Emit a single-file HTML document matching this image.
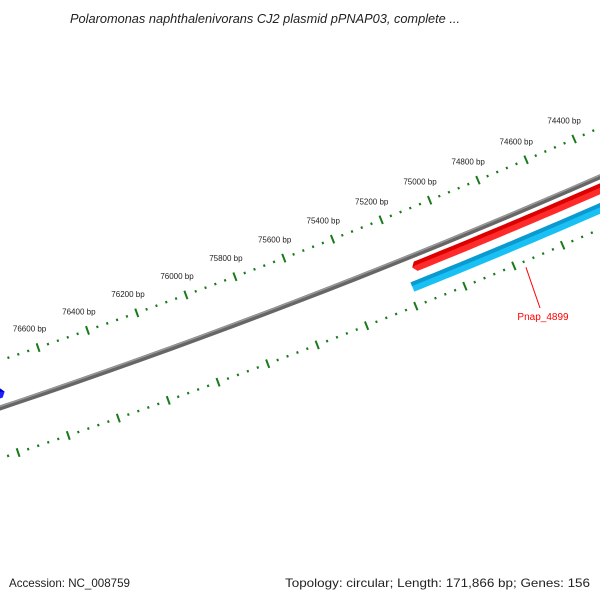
<!DOCTYPE html>
<html><head><meta charset="utf-8"><style>
html,body{margin:0;padding:0;background:#fff;}
svg{display:block;font-family:"Liberation Sans","DejaVu Sans",sans-serif;}
</style></head><body>
<svg id="map" width="600" height="600" viewBox="0 0 600 600" xmlns="http://www.w3.org/2000/svg">
<text x="265" y="23" text-anchor="middle" font-size="13" font-style="italic" fill="#222" textLength="390" lengthAdjust="spacingAndGlyphs">Polaromonas naphthalenivorans CJ2 plasmid pPNAP03, complete ...</text>
<g id="tracks"></g>
<text x="9" y="587" font-size="12" fill="#222" textLength="121" lengthAdjust="spacingAndGlyphs">Accession: NC_008759</text>
<text x="285" y="587" font-size="12" fill="#222" textLength="305" lengthAdjust="spacingAndGlyphs">Topology: circular; Length: 171,866 bp; Genes: 156</text>
</svg>
<script>
const genomeLength = [171866];
const tickLabels = [74400, 74600, 74800, 75000, 75200, 75400, 75600, 75800, 76000, 76200, 76400, 76600];
const geneNames = ["Pnap_4899_fwd", "Pnap_4899"];
const geneStarts = [75158, 75185];
const geneEnds = [73900, 73900];
const blueGeneStart = [76840];
const blueGeneEnd = [76775];

const NS = "http://www.w3.org/2000/svg";
const g = document.getElementById('tracks');
const R_LAB = 7153;
const R_BACK = R_LAB + 45, R_RED = R_LAB + 56, R_BLUE = R_LAB + 74, R_IN = R_LAB + 93;
const CX = 283 - 0.359 * R_LAB, CY = 256 - 0.933 * R_LAB;
const K = 2 * Math.PI / genomeLength[0];
const TH0 = Math.atan2(256 - CY, 283 - CX);
function ang(bp) { return TH0 + (bp - 75600) * K; }
function pt(bp, r) { const a = ang(bp); return [CX + r * Math.cos(a), CY + r * Math.sin(a)]; }
function mk(tag, attrs) { const e = document.createElementNS(NS, tag); for (const k in attrs) e.setAttribute(k, attrs[k]); g.appendChild(e); return e; }
function edge(b1, b2, r) { const pts = []; const n = 40; for (let i = 0; i <= n; i++) { const p = pt(b1 + (b2 - b1) * i / n, r); pts.push(p[0].toFixed(2) + ',' + p[1].toFixed(2)); } return pts; }

// backbone
{
  const p1 = mk('polyline', { points: edge(78500, 73500, R_BACK).join(' '), stroke: '#666', 'stroke-width': 5, fill: 'none' });
  
  
  const p2 = mk('polyline', { points: edge(78500, 73500, R_BACK - 1.5).join(' '), stroke: '#999', 'stroke-width': 1.5, fill: 'none' });
  
  
}

// ticks
function ring(r, labels, nameBase) {
  for (let bp = 73600; bp <= 77200; bp += 40) {
    const major = bp % 200 === 0;
    const len = major ? 4.5 : 1.2;
    const a = pt(bp, r - len), b = pt(bp, r + len);
    const t = mk('line', { x1: a[0], y1: a[1], x2: b[0], y2: b[1], stroke: '#1a7a1a', 'stroke-width': 2 });
    
    
  }
  if (labels) {
    tickLabels.forEach(v => {
      const p = pt(v, r - 20);
      const tx = mk('text', { x: p[0] - 2, y: p[1] + 3, 'font-size': 8, fill: '#222', 'text-anchor': 'middle' });
      tx.textContent = v + ' bp';
      
      
    });
  }
}
ring(R_LAB, true, 'outer');
ring(R_IN, false, 'inner');

// gene helper: s = tip end, e = tail end
function gene(s, e, r, w, fill, dark, arrow, name) {
  const dir = e < s ? -1 : 1;
  const base = arrow ? s + dir * 14 : s;
  const ro = r - w / 2, ri = r + w / 2, rm = r - w * 0.1;
  const outer = edge(base, e, ro), inner = edge(e, base, ri), mid = edge(e, base, rm);
  const tip = pt(s, r);
  let pts = outer.concat(inner); if (arrow) pts.push(tip[0] + ',' + tip[1]);
  const p = mk('polygon', { points: pts.join(' '), fill: fill });
  
  
  let pts2 = outer.concat(mid); if (arrow) pts2.push(tip[0] + ',' + tip[1]);
  const p2 = mk('polygon', { points: pts2.join(' '), fill: dark });
  
  
}
gene(geneStarts[0], geneEnds[0], R_RED, 10, '#ff2a2a', '#dd0000', true, 'gene-red');
gene(geneStarts[1], geneEnds[1], R_BLUE, 10, '#18c0f4', '#0a9ad0', false, 'gene-blue');
gene(blueGeneEnd[0], blueGeneStart[0], R_BACK - 14, 10, '#2020ff', '#0000cc', true, 'gene-blue-left');

// label
{
  const a = pt(74760, R_IN + 6), b = [540, 308];
  const l = mk('line', { x1: a[0], y1: a[1], x2: b[0], y2: b[1], stroke: '#ff0000', 'stroke-width': 1 });
  
  
  const t = mk('text', { x: 543, y: 320, 'font-size': 10, fill: '#ff0000', 'text-anchor': 'middle' });
  t.textContent = geneNames[1];
  
  
}
</script>
</body></html>
